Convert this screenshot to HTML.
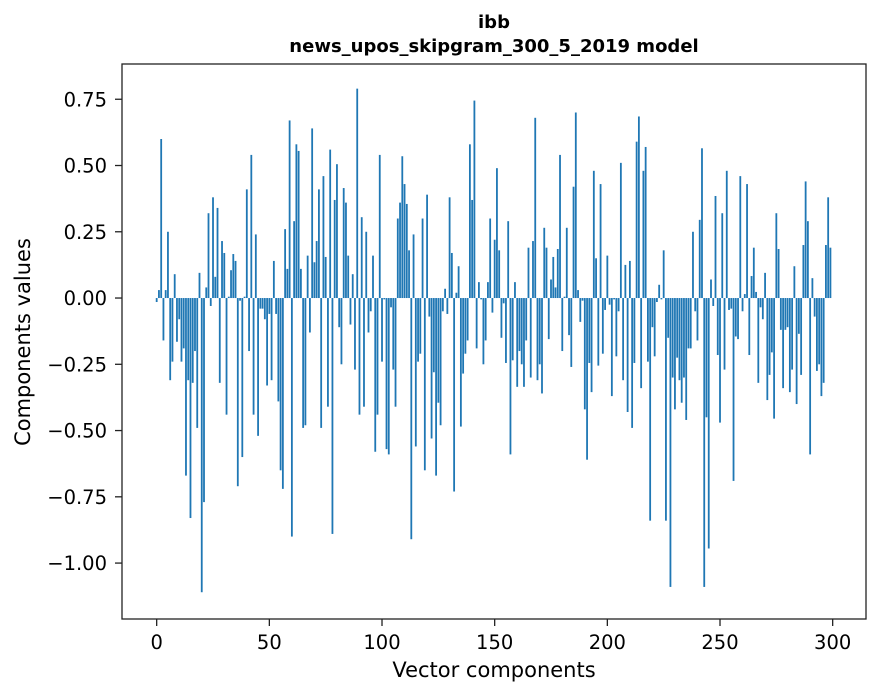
<!DOCTYPE html>
<html><head><meta charset="utf-8"><style>
body{margin:0;background:#fff}
svg{display:block;font-family:"DejaVu Sans","Liberation Sans",sans-serif}
</style></head><body>
<svg id="chart" width="880" height="696">
<rect x="0" y="0" width="880" height="696" fill="#fff"/>
<text x="494" y="28" text-anchor="middle" font-size="18" font-weight="bold">ibb</text>
<text x="494" y="52" text-anchor="middle" font-size="18" font-weight="bold">news_upos_skipgram_300_5_2019 model</text>
<g id="bars"></g>
<g id="axes"></g>
<text x="494" y="677" text-anchor="middle" font-size="21">Vector components</text>
<text x="30" y="342" text-anchor="middle" font-size="21" transform="rotate(-90 30 342)">Components values</text>
</svg>
<script>
const values = [
-0.015,0.03,0.60,-0.16,0.03,0.25,-0.31,-0.24,0.09,-0.165,
-0.08,-0.24,-0.19,-0.67,-0.31,-0.83,-0.32,-0.2,-0.49,0.095,
-1.11,-0.77,0.04,0.32,-0.03,0.38,0.08,0.34,-0.32,0.215,
0.17,-0.44,0.005,0.105,0.166,0.14,-0.71,-0.01,-0.60,0.005,
0.41,-0.2,0.54,-0.44,0.24,-0.52,-0.04,-0.04,-0.08,-0.33,
-0.06,-0.31,0.14,-0.06,-0.39,-0.65,-0.72,0.26,0.11,0.67,
-0.90,0.29,0.58,0.555,0.11,-0.49,-0.48,0.16,-0.13,0.64,
0.135,0.215,0.41,-0.49,0.46,0.155,-0.41,0.56,-0.89,0.37,
0.505,-0.11,-0.25,0.415,0.36,0.16,-0.10,0.09,-0.27,0.79,
-0.44,0.305,-0.41,0.25,-0.13,-0.05,0.16,-0.58,-0.44,0.54,
-0.24,-0.005,-0.57,-0.59,-0.035,-0.27,-0.41,0.30,0.36,0.535,
0.43,0.355,0.18,-0.91,0.24,-0.56,-0.24,-0.21,0.30,-0.65,
0.39,-0.07,-0.53,-0.28,-0.67,-0.395,-0.48,-0.05,0.035,-0.06,
0.38,0.17,-0.73,0.02,0.12,-0.485,-0.285,-0.21,-0.16,0.58,
0.37,0.745,-0.19,0.06,-0.005,-0.25,-0.16,0.06,0.30,-0.055,
0.22,0.49,0.18,-0.15,-0.02,-0.245,0.29,-0.59,-0.235,0.06,
-0.335,-0.2,-0.25,-0.335,-0.16,0.19,-0.30,0.215,0.68,-0.31,
-0.25,-0.36,0.265,0.19,-0.155,0.07,0.155,0.04,0.185,0.54,
-0.2,0.005,0.265,-0.14,-0.26,0.42,0.70,0.03,-0.09,-0.01,
-0.42,-0.61,-0.245,-0.355,0.48,0.15,-0.255,0.43,-0.21,-0.045,
0.16,-0.025,-0.37,-0.005,-0.22,-0.05,0.51,-0.31,0.125,-0.43,
0.14,-0.49,-0.245,0.59,0.685,-0.34,0.48,0.57,-0.24,-0.84,
-0.11,-0.22,-0.015,0.05,-0.005,0.18,-0.84,-0.15,-1.09,-0.30,
-0.42,-0.225,-0.31,-0.395,-0.30,-0.46,-0.19,-0.19,0.25,-0.05,
-0.16,0.295,0.565,-1.09,-0.45,-0.945,0.07,-0.03,0.385,-0.215,
-0.47,0.32,-0.27,0.48,-0.045,-0.04,-0.69,-0.145,-0.155,0.46,
-0.05,0.015,0.43,-0.215,0.083,0.19,0.023,-0.32,-0.035,-0.08,
0.095,-0.385,-0.29,-0.205,-0.455,0.32,0.185,-0.12,-0.34,-0.12,
-0.11,-0.355,-0.27,0.12,-0.40,-0.135,-0.29,0.20,0.44,0.29,
-0.59,0.075,-0.07,-0.275,-0.25,-0.37,-0.32,0.20,0.38,0.19
];
const xTicks = [0,50,100,150,200,250,300];
const yTicks = [0.75,0.5,0.25,0,-0.25,-0.5,-0.75,-1.0];
const yTickLabels = ["0.75","0.50","0.25","0.00","\u22120.25","\u22120.50","\u22120.75","\u22121.00"];

const L=122,R=866,T=64,B=619;
const xmin=-15.39,xmax=314.79,ymin=-1.211,ymax=0.883;
const xs=v=>L+(v-xmin)/(xmax-xmin)*(R-L);
const ys=v=>T+(ymax-v)/(ymax-ymin)*(B-T);
const NS="http://www.w3.org/2000/svg";
const bars=document.getElementById('bars');
values.forEach((v,i)=>{
  const r=document.createElementNS(NS,'rect');
  const x0=xs(i-0.4),x1=xs(i+0.4);
  const y0=ys(Math.max(v,0)),y1=ys(Math.min(v,0));
  r.setAttribute('x',x0);r.setAttribute('width',x1-x0);
  r.setAttribute('y',y0);r.setAttribute('height',Math.max(y1-y0,0.3));
  r.setAttribute('fill','#1f77b4');
  
  
  bars.appendChild(r);
});
const ax=document.getElementById('axes');
const frame=document.createElementNS(NS,'rect');
frame.setAttribute('x',L);frame.setAttribute('y',T);frame.setAttribute('width',R-L);frame.setAttribute('height',B-T);
frame.setAttribute('fill','none');frame.setAttribute('stroke','#222');frame.setAttribute('stroke-width','1.3');


ax.appendChild(frame);
xTicks.forEach(t=>{
  const x=xs(t);
  const l=document.createElementNS(NS,'line');
  l.setAttribute('x1',x);l.setAttribute('x2',x);l.setAttribute('y1',B);l.setAttribute('y2',B+7);l.setAttribute('stroke','#222');l.setAttribute('stroke-width','1.3');
  
  
  ax.appendChild(l);
  const tx=document.createElementNS(NS,'text');
  tx.setAttribute('x',x);tx.setAttribute('y',649);tx.setAttribute('text-anchor','middle');tx.setAttribute('font-size','19.5');
  tx.textContent=t;
  
  
  ax.appendChild(tx);
});
yTicks.forEach((t,i)=>{
  const y=ys(t);
  const l=document.createElementNS(NS,'line');
  l.setAttribute('x1',L-7);l.setAttribute('x2',L);l.setAttribute('y1',y);l.setAttribute('y2',y);l.setAttribute('stroke','#222');l.setAttribute('stroke-width','1.3');
  
  
  ax.appendChild(l);
  const tx=document.createElementNS(NS,'text');
  tx.setAttribute('x',107);tx.setAttribute('y',y+7);tx.setAttribute('text-anchor','end');tx.setAttribute('font-size','19.5');
  tx.textContent=yTickLabels[i];
  
  
  ax.appendChild(tx);
});
</script>
</body></html>
